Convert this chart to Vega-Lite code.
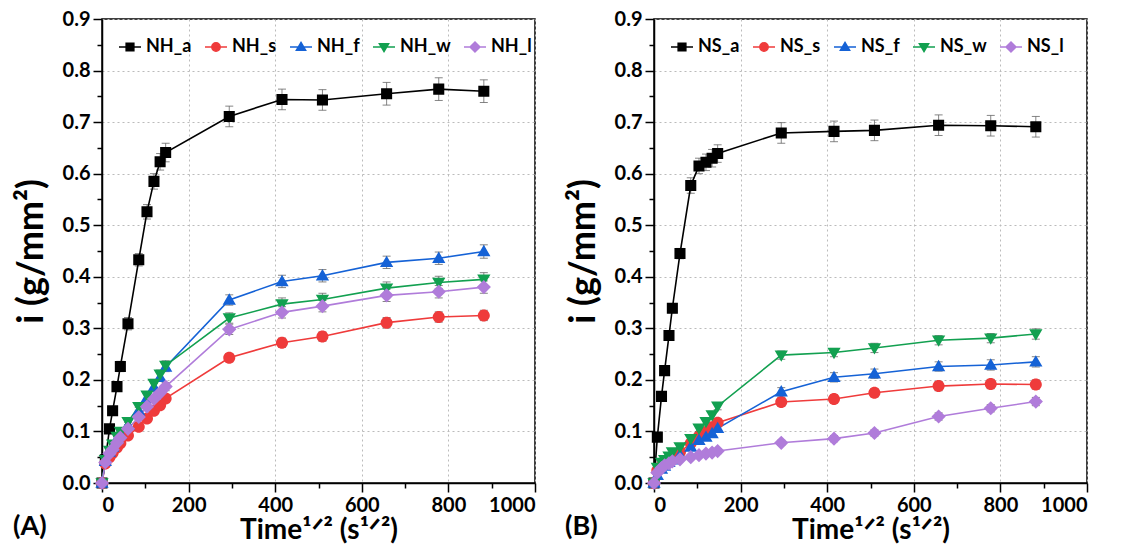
{
"$schema": "https://vega.github.io/schema/vega-lite/v6.json",
"padding": {"left": 12, "top": 8, "right": 5, "bottom": 0},
"spacing": 27,
"resolve": {"scale": {"color": "independent", "fill": "independent", "shape": "independent", "stroke": "independent"}, "legend": {"color": "independent", "fill": "independent", "shape": "independent", "stroke": "independent"}},
"config": {
  "font": "Lato",
  "view": {"stroke": "black", "strokeWidth": 1.5},
  "axis": {"domainColor": "black", "domainWidth": 1.5, "tickColor": "black", "tickWidth": 1.5, "labelColor": "black", "labelFont": "Lato", "labelFontSize": 20, "labelFontWeight": "bold", "titleColor": "black", "titleFont": "Lato", "titleFontSize": 28, "titleFontWeight": "bold", "gridColor": "#bbbbbb", "gridDash": [2, 3], "gridWidth": 1, "labelPadding": 3},
  "legend": {"orient": "top-left", "offset": 16, "padding": 0, "direction": "horizontal", "symbolSize": 484, "symbolStrokeWidth": 1.5, "labelFont": "Lato", "labelFontSize": 18, "labelFontWeight": "bold", "labelColor": "black", "labelOffset": 4, "columnPadding": 10}
},
"datasets": {
"A": [
{"s":"NH_a","x":0,"y":0,"e":0},{"s":"NH_a","x":7.7,"y":0.045,"e":0.003},{"s":"NH_a","x":17.3,"y":0.105,"e":0.005},{"s":"NH_a","x":24.5,"y":0.14,"e":0.006},{"s":"NH_a","x":34.6,"y":0.187,"e":0.008},{"s":"NH_a","x":42.4,"y":0.226,"e":0.01},{"s":"NH_a","x":60,"y":0.309,"e":0.012},{"s":"NH_a","x":84.9,"y":0.433,"e":0.012},{"s":"NH_a","x":103.9,"y":0.526,"e":0.014},{"s":"NH_a","x":120,"y":0.585,"e":0.015},{"s":"NH_a","x":134.2,"y":0.623,"e":0.016},{"s":"NH_a","x":147,"y":0.641,"e":0.018},{"s":"NH_a","x":293.9,"y":0.711,"e":0.02},{"s":"NH_a","x":415.7,"y":0.744,"e":0.02},{"s":"NH_a","x":509.1,"y":0.743,"e":0.02},{"s":"NH_a","x":657.3,"y":0.755,"e":0.022},{"s":"NH_a","x":777.7,"y":0.764,"e":0.022},{"s":"NH_a","x":881.8,"y":0.76,"e":0.022},
{"s":"NH_s","x":0,"y":0,"e":0},{"s":"NH_s","x":7.7,"y":0.038,"e":0.003},{"s":"NH_s","x":17.3,"y":0.05,"e":0.004},{"s":"NH_s","x":24.5,"y":0.058,"e":0.004},{"s":"NH_s","x":34.6,"y":0.069,"e":0.005},{"s":"NH_s","x":42.4,"y":0.077,"e":0.005},{"s":"NH_s","x":60,"y":0.092,"e":0.006},{"s":"NH_s","x":84.9,"y":0.109,"e":0.006},{"s":"NH_s","x":103.9,"y":0.125,"e":0.007},{"s":"NH_s","x":120,"y":0.14,"e":0.007},{"s":"NH_s","x":134.2,"y":0.151,"e":0.008},{"s":"NH_s","x":147,"y":0.164,"e":0.008},{"s":"NH_s","x":293.9,"y":0.243,"e":0.008},{"s":"NH_s","x":415.7,"y":0.272,"e":0.009},{"s":"NH_s","x":509.1,"y":0.284,"e":0.009},{"s":"NH_s","x":657.3,"y":0.311,"e":0.01},{"s":"NH_s","x":777.7,"y":0.322,"e":0.01},{"s":"NH_s","x":881.8,"y":0.325,"e":0.01},
{"s":"NH_f","x":0,"y":0,"e":0},{"s":"NH_f","x":7.7,"y":0.042,"e":0.003},{"s":"NH_f","x":17.3,"y":0.06,"e":0.004},{"s":"NH_f","x":24.5,"y":0.07,"e":0.004},{"s":"NH_f","x":34.6,"y":0.085,"e":0.005},{"s":"NH_f","x":42.4,"y":0.095,"e":0.005},{"s":"NH_f","x":60,"y":0.112,"e":0.006},{"s":"NH_f","x":84.9,"y":0.14,"e":0.007},{"s":"NH_f","x":103.9,"y":0.165,"e":0.007},{"s":"NH_f","x":120,"y":0.186,"e":0.008},{"s":"NH_f","x":134.2,"y":0.205,"e":0.008},{"s":"NH_f","x":147,"y":0.225,"e":0.009},{"s":"NH_f","x":293.9,"y":0.355,"e":0.01},{"s":"NH_f","x":415.7,"y":0.391,"e":0.012},{"s":"NH_f","x":509.1,"y":0.402,"e":0.012},{"s":"NH_f","x":657.3,"y":0.428,"e":0.012},{"s":"NH_f","x":777.7,"y":0.436,"e":0.012},{"s":"NH_f","x":881.8,"y":0.449,"e":0.013},
{"s":"NH_w","x":0,"y":0,"e":0},{"s":"NH_w","x":7.7,"y":0.045,"e":0.003},{"s":"NH_w","x":17.3,"y":0.063,"e":0.004},{"s":"NH_w","x":24.5,"y":0.075,"e":0.004},{"s":"NH_w","x":34.6,"y":0.09,"e":0.005},{"s":"NH_w","x":42.4,"y":0.1,"e":0.005},{"s":"NH_w","x":60,"y":0.119,"e":0.006},{"s":"NH_w","x":84.9,"y":0.148,"e":0.007},{"s":"NH_w","x":103.9,"y":0.17,"e":0.007},{"s":"NH_w","x":120,"y":0.193,"e":0.008},{"s":"NH_w","x":134.2,"y":0.211,"e":0.008},{"s":"NH_w","x":147,"y":0.228,"e":0.009},{"s":"NH_w","x":293.9,"y":0.32,"e":0.01},{"s":"NH_w","x":415.7,"y":0.347,"e":0.012},{"s":"NH_w","x":509.1,"y":0.356,"e":0.012},{"s":"NH_w","x":657.3,"y":0.378,"e":0.012},{"s":"NH_w","x":777.7,"y":0.389,"e":0.012},{"s":"NH_w","x":881.8,"y":0.395,"e":0.013},
{"s":"NH_l","x":0,"y":0,"e":0},{"s":"NH_l","x":7.7,"y":0.04,"e":0.003},{"s":"NH_l","x":17.3,"y":0.057,"e":0.004},{"s":"NH_l","x":24.5,"y":0.065,"e":0.004},{"s":"NH_l","x":34.6,"y":0.078,"e":0.005},{"s":"NH_l","x":42.4,"y":0.088,"e":0.005},{"s":"NH_l","x":60,"y":0.105,"e":0.006},{"s":"NH_l","x":84.9,"y":0.128,"e":0.006},{"s":"NH_l","x":103.9,"y":0.148,"e":0.007},{"s":"NH_l","x":120,"y":0.163,"e":0.007},{"s":"NH_l","x":134.2,"y":0.175,"e":0.008},{"s":"NH_l","x":147,"y":0.187,"e":0.008},{"s":"NH_l","x":293.9,"y":0.298,"e":0.01},{"s":"NH_l","x":415.7,"y":0.331,"e":0.011},{"s":"NH_l","x":509.1,"y":0.343,"e":0.011},{"s":"NH_l","x":657.3,"y":0.364,"e":0.012},{"s":"NH_l","x":777.7,"y":0.371,"e":0.012},{"s":"NH_l","x":881.8,"y":0.38,"e":0.012}
],
"B": [
{"s":"NS_a","x":0,"y":0,"e":0},{"s":"NS_a","x":7.7,"y":0.089,"e":0.005},{"s":"NS_a","x":17.3,"y":0.168,"e":0.006},{"s":"NS_a","x":24.5,"y":0.218,"e":0.007},{"s":"NS_a","x":34.6,"y":0.286,"e":0.008},{"s":"NS_a","x":42.4,"y":0.339,"e":0.009},{"s":"NS_a","x":60,"y":0.445,"e":0.01},{"s":"NS_a","x":84.9,"y":0.577,"e":0.015},{"s":"NS_a","x":103.9,"y":0.615,"e":0.015},{"s":"NS_a","x":120,"y":0.622,"e":0.016},{"s":"NS_a","x":134.2,"y":0.63,"e":0.017},{"s":"NS_a","x":147,"y":0.639,"e":0.017},{"s":"NS_a","x":293.9,"y":0.679,"e":0.02},{"s":"NS_a","x":415.7,"y":0.682,"e":0.02},{"s":"NS_a","x":509.1,"y":0.684,"e":0.02},{"s":"NS_a","x":657.3,"y":0.694,"e":0.02},{"s":"NS_a","x":777.7,"y":0.693,"e":0.02},{"s":"NS_a","x":881.8,"y":0.691,"e":0.02},
{"s":"NS_s","x":0,"y":0,"e":0},{"s":"NS_s","x":7.7,"y":0.024,"e":0.003},{"s":"NS_s","x":17.3,"y":0.032,"e":0.003},{"s":"NS_s","x":24.5,"y":0.038,"e":0.004},{"s":"NS_s","x":34.6,"y":0.044,"e":0.004},{"s":"NS_s","x":42.4,"y":0.05,"e":0.004},{"s":"NS_s","x":60,"y":0.06,"e":0.005},{"s":"NS_s","x":84.9,"y":0.077,"e":0.005},{"s":"NS_s","x":103.9,"y":0.09,"e":0.006},{"s":"NS_s","x":120,"y":0.099,"e":0.006},{"s":"NS_s","x":134.2,"y":0.108,"e":0.006},{"s":"NS_s","x":147,"y":0.117,"e":0.007},{"s":"NS_s","x":293.9,"y":0.157,"e":0.008},{"s":"NS_s","x":415.7,"y":0.163,"e":0.008},{"s":"NS_s","x":509.1,"y":0.175,"e":0.008},{"s":"NS_s","x":657.3,"y":0.188,"e":0.009},{"s":"NS_s","x":777.7,"y":0.192,"e":0.009},{"s":"NS_s","x":881.8,"y":0.191,"e":0.009},
{"s":"NS_f","x":0,"y":0,"e":0},{"s":"NS_f","x":7.7,"y":0.015,"e":0.002},{"s":"NS_f","x":17.3,"y":0.027,"e":0.003},{"s":"NS_f","x":24.5,"y":0.033,"e":0.003},{"s":"NS_f","x":34.6,"y":0.04,"e":0.004},{"s":"NS_f","x":42.4,"y":0.045,"e":0.004},{"s":"NS_f","x":60,"y":0.054,"e":0.005},{"s":"NS_f","x":84.9,"y":0.07,"e":0.005},{"s":"NS_f","x":103.9,"y":0.083,"e":0.006},{"s":"NS_f","x":120,"y":0.089,"e":0.006},{"s":"NS_f","x":134.2,"y":0.096,"e":0.006},{"s":"NS_f","x":147,"y":0.106,"e":0.007},{"s":"NS_f","x":293.9,"y":0.177,"e":0.008},{"s":"NS_f","x":415.7,"y":0.205,"e":0.009},{"s":"NS_f","x":509.1,"y":0.212,"e":0.009},{"s":"NS_f","x":657.3,"y":0.226,"e":0.009},{"s":"NS_f","x":777.7,"y":0.229,"e":0.01},{"s":"NS_f","x":881.8,"y":0.235,"e":0.01},
{"s":"NS_w","x":0,"y":0,"e":0},{"s":"NS_w","x":7.7,"y":0.03,"e":0.003},{"s":"NS_w","x":17.3,"y":0.04,"e":0.003},{"s":"NS_w","x":24.5,"y":0.045,"e":0.004},{"s":"NS_w","x":34.6,"y":0.052,"e":0.004},{"s":"NS_w","x":42.4,"y":0.06,"e":0.004},{"s":"NS_w","x":60,"y":0.07,"e":0.005},{"s":"NS_w","x":84.9,"y":0.086,"e":0.005},{"s":"NS_w","x":103.9,"y":0.106,"e":0.006},{"s":"NS_w","x":120,"y":0.119,"e":0.006},{"s":"NS_w","x":134.2,"y":0.132,"e":0.007},{"s":"NS_w","x":147,"y":0.149,"e":0.007},{"s":"NS_w","x":293.9,"y":0.248,"e":0.008},{"s":"NS_w","x":415.7,"y":0.253,"e":0.008},{"s":"NS_w","x":509.1,"y":0.262,"e":0.009},{"s":"NS_w","x":657.3,"y":0.277,"e":0.009},{"s":"NS_w","x":777.7,"y":0.281,"e":0.009},{"s":"NS_w","x":881.8,"y":0.289,"e":0.01},
{"s":"NS_l","x":0,"y":0,"e":0},{"s":"NS_l","x":7.7,"y":0.02,"e":0.002},{"s":"NS_l","x":17.3,"y":0.029,"e":0.003},{"s":"NS_l","x":24.5,"y":0.034,"e":0.003},{"s":"NS_l","x":34.6,"y":0.038,"e":0.003},{"s":"NS_l","x":42.4,"y":0.042,"e":0.003},{"s":"NS_l","x":60,"y":0.046,"e":0.004},{"s":"NS_l","x":84.9,"y":0.05,"e":0.004},{"s":"NS_l","x":103.9,"y":0.054,"e":0.004},{"s":"NS_l","x":120,"y":0.057,"e":0.004},{"s":"NS_l","x":134.2,"y":0.059,"e":0.004},{"s":"NS_l","x":147,"y":0.062,"e":0.005},{"s":"NS_l","x":293.9,"y":0.078,"e":0.005},{"s":"NS_l","x":415.7,"y":0.086,"e":0.006},{"s":"NS_l","x":509.1,"y":0.097,"e":0.006},{"s":"NS_l","x":657.3,"y":0.129,"e":0.007},{"s":"NS_l","x":777.7,"y":0.145,"e":0.007},{"s":"NS_l","x":881.8,"y":0.158,"e":0.008}
]
},
"hconcat": [
{
  "width": 433, "height": 464,
  "data": {"name": "A"},
  "title": {"text": "(A)", "orient": "bottom", "anchor": "start", "frame": "group", "dx": -89, "offset": -30, "fontSize": 27, "fontWeight": "bold", "font": "Lato", "color": "black"},
  "encoding": {
    "x": {"field": "x", "type": "quantitative", "scale": {"domain": [0, 1000], "nice": false},
      "axis": {"title": "Time¹ᐟ² (s¹ᐟ²)", "format": "d", "values": [0,100,200,300,400,500,600,700,800,900,1000], "labelExpr": "datum.value % 200 === 0 ? datum.label : ''", "tickSize": {"condition": {"test": "datum.value % 200 === 0", "value": 9}, "value": 5}, "gridOpacity": {"condition": {"test": "datum.value % 200 === 0", "value": 1}, "value": 0}, "titlePadding": 1}},
    "y": {"field": "y", "type": "quantitative", "scale": {"domain": [0, 0.9], "nice": false},
      "axis": {"title": "i (g/mm²)", "titleFontSize": 36, "values": [0,0.05,0.1,0.15,0.2,0.25,0.3,0.35,0.4,0.45,0.5,0.55,0.6,0.65,0.7,0.75,0.8,0.85,0.9], "labelExpr": "round(datum.value*100) % 10 === 0 ? format(datum.value, '.1f') : ''", "tickSize": {"condition": {"test": "round(datum.value*100) % 10 === 0", "value": 9}, "value": 5}, "gridOpacity": {"condition": {"test": "round(datum.value*100) % 10 === 0", "value": 1}, "value": 0}, "titlePadding": 12}}
  },
  "layer": [
    {"mark": {"type": "errorbar", "ticks": {"size": 8}, "thickness": 1, "color": "#666666", "opacity": 0.8},
     "encoding": {"y": {"field": "y", "type": "quantitative"}, "yError": {"field": "e"}, "detail": {"field": "s", "type": "nominal"}}},
    {"mark": {"type": "line", "strokeWidth": 1.6},
     "encoding": {"stroke": {"field": "s", "type": "nominal", "scale": {"domain": ["NH_a","NH_s","NH_f","NH_w","NH_l"], "range": ["#000000","#EF3B3B","#1562D6","#12A050","#B07CDA"]}, "legend": {"title": null}}}},
    {"mark": {"type": "point", "filled": true, "size": 1000, "opacity": 1},
     "encoding": {
       "fill": {"field": "s", "type": "nominal", "scale": {"domain": ["NH_a","NH_s","NH_f","NH_w","NH_l"], "range": ["#000000","#EF3B3B","#1562D6","#12A050","#B07CDA"]}, "legend": {"title": null}},
       "shape": {"field": "s", "type": "nominal", "scale": {"domain": ["NH_a","NH_s","NH_f","NH_w","NH_l"], "range": ["M-1,0H1M-0.35,-0.35H0.35V0.35H-0.35Z", "M-1,0H1M-0.38,0A0.38,0.38,0,1,1,0.38,0A0.38,0.38,0,1,1,-0.38,0Z", "M-1,0H1M0,-0.42L0.42,0.3H-0.42Z", "M-1,0H1M0,0.42L0.42,-0.3H-0.42Z", "M-1,0H1M0,-0.45L0.45,0L0,0.45L-0.45,0Z"]}, "legend": {"title": null}}
     }}
  ]
},
{
  "width": 433, "height": 464,
  "data": {"name": "B"},
  "title": {"text": "(B)", "orient": "bottom", "anchor": "start", "frame": "group", "dx": -89, "offset": -30, "fontSize": 27, "fontWeight": "bold", "font": "Lato", "color": "black"},
  "encoding": {
    "x": {"field": "x", "type": "quantitative", "scale": {"domain": [0, 1000], "nice": false},
      "axis": {"title": "Time¹ᐟ² (s¹ᐟ²)", "format": "d", "values": [0,100,200,300,400,500,600,700,800,900,1000], "labelExpr": "datum.value % 200 === 0 ? datum.label : ''", "tickSize": {"condition": {"test": "datum.value % 200 === 0", "value": 9}, "value": 5}, "gridOpacity": {"condition": {"test": "datum.value % 200 === 0", "value": 1}, "value": 0}, "titlePadding": 1}},
    "y": {"field": "y", "type": "quantitative", "scale": {"domain": [0, 0.9], "nice": false},
      "axis": {"title": "i (g/mm²)", "titleFontSize": 36, "values": [0,0.05,0.1,0.15,0.2,0.25,0.3,0.35,0.4,0.45,0.5,0.55,0.6,0.65,0.7,0.75,0.8,0.85,0.9], "labelExpr": "round(datum.value*100) % 10 === 0 ? format(datum.value, '.1f') : ''", "tickSize": {"condition": {"test": "round(datum.value*100) % 10 === 0", "value": 9}, "value": 5}, "gridOpacity": {"condition": {"test": "round(datum.value*100) % 10 === 0", "value": 1}, "value": 0}, "titlePadding": 12}}
  },
  "layer": [
    {"mark": {"type": "errorbar", "ticks": {"size": 8}, "thickness": 1, "color": "#666666", "opacity": 0.8},
     "encoding": {"y": {"field": "y", "type": "quantitative"}, "yError": {"field": "e"}, "detail": {"field": "s", "type": "nominal"}}},
    {"mark": {"type": "line", "strokeWidth": 1.6},
     "encoding": {"stroke": {"field": "s", "type": "nominal", "scale": {"domain": ["NS_a","NS_s","NS_f","NS_w","NS_l"], "range": ["#000000","#EF3B3B","#1562D6","#12A050","#B07CDA"]}, "legend": {"title": null}}}},
    {"mark": {"type": "point", "filled": true, "size": 1000, "opacity": 1},
     "encoding": {
       "fill": {"field": "s", "type": "nominal", "scale": {"domain": ["NS_a","NS_s","NS_f","NS_w","NS_l"], "range": ["#000000","#EF3B3B","#1562D6","#12A050","#B07CDA"]}, "legend": {"title": null}},
       "shape": {"field": "s", "type": "nominal", "scale": {"domain": ["NS_a","NS_s","NS_f","NS_w","NS_l"], "range": ["M-1,0H1M-0.35,-0.35H0.35V0.35H-0.35Z", "M-1,0H1M-0.38,0A0.38,0.38,0,1,1,0.38,0A0.38,0.38,0,1,1,-0.38,0Z", "M-1,0H1M0,-0.42L0.42,0.3H-0.42Z", "M-1,0H1M0,0.42L0.42,-0.3H-0.42Z", "M-1,0H1M0,-0.45L0.45,0L0,0.45L-0.45,0Z"]}, "legend": {"title": null}}
     }}
  ]
}
]
}
